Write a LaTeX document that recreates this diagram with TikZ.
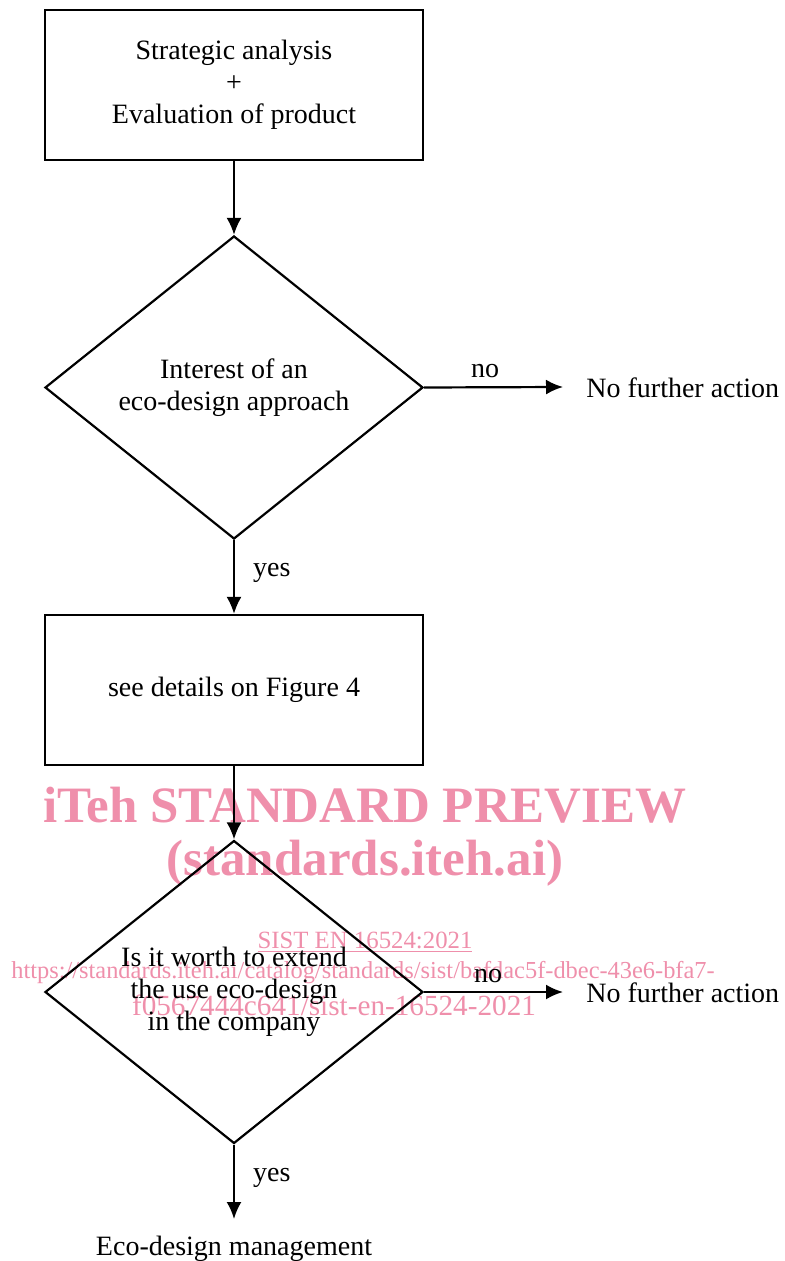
\documentclass[tikz,border=0pt]{standalone}
\usepackage{fontspec}
\setmainfont{Liberation Serif}
\usepackage{tikz}
\usetikzlibrary{shapes,arrows.meta,positioning}
\definecolor{pinkmark}{RGB}{239,143,171}
\tikzstyle{line} = [draw, line width=1.1pt, -{Latex[length=8.5pt,width=7.5pt]}]
\tikzstyle{block} = [draw, line width=1.1pt, rectangle, minimum width=189pt, minimum height=75pt, align=center, font=\fontsize{14}{16}\selectfont]
\tikzstyle{decision} = [draw, line width=1.1pt, diamond, aspect=1.25, inner sep=0pt, minimum width=189pt, minimum height=151.5pt, align=center, font=\fontsize{14}{16}\selectfont]
\tikzstyle{plain} = [font=\fontsize{14}{16}\selectfont, inner sep=0pt]
\tikzstyle{wmark} = [text=pinkmark, inner sep=0pt]

\begin{document}
\begin{tikzpicture}[x=0.5pt,y=-0.5pt]
   		\useasboundingbox (0,0) rectangle (784,1261);
   		% watermark
   		\node (wm1) [wmark,font=\fontsize{25.5}{26}\bfseries\selectfont] at (365,805) {iTeh STANDARD PREVIEW};
   		\node (wm2) [wmark,font=\fontsize{25.5}{26}\bfseries\selectfont] at (365,863) {(standards.iteh.ai)};
   		\node (wm3) [wmark,font=\fontsize{12.4}{13}\selectfont] at (365,942) {\underline{SIST EN 16524:2021}};
   		\node (wm4) [wmark,font=\fontsize{12.2}{13}\selectfont] at (363,973) {https://standards.iteh.ai/catalog/standards/sist/bafdac5f-dbec-43e6-bfa7-};
   		\node (wm5) [wmark,font=\fontsize{14.6}{15}\selectfont] at (334,1005) {f0567444c641/sist-en-16524-2021};
   		% flow chart
   		\node (start) [block]    at (234,85)   {Strategic analysis\\+\\Evaluation of product};
   		\node (int)   [decision] at (234,387.5){Interest of an\\eco-design approach};
   		\node (no1)   [plain,anchor=west] at (586,388) {No further action};
   		\node (see)   [block]    at (234,690)  {see details on Figure 4};
   		\node (ext)   [decision] at (234,992)  {Is it worth to extend\\the use eco-design\\in the company};
   		\node (no2)   [plain,anchor=west] at (586,993) {No further action};
   		\node (mgmt)  [plain]    at (234,1249) {Eco-design management};
   		\coordinate (e1) at (563,387);
   		\coordinate (e2) at (563,992);
   		\coordinate (e3) at (234,1219);
   		\draw[line] (start) -- (int);
   		\draw[line] (int.east) -- (e1) node [plain,pos=0.44,above=4pt] {no};
   		\draw[line] (int) -- (see) node [plain,pos=0.45,right=9pt] {yes};
   		\draw[line] (see) -- (ext);
   		\draw[line] (ext.east) -- (e2) node [plain,pos=0.46,above=4pt] {no};
   		\draw[line] (ext) -- (e3) node [plain,pos=0.45,right=9pt] {yes};
   		\end{tikzpicture}
\end{document}
